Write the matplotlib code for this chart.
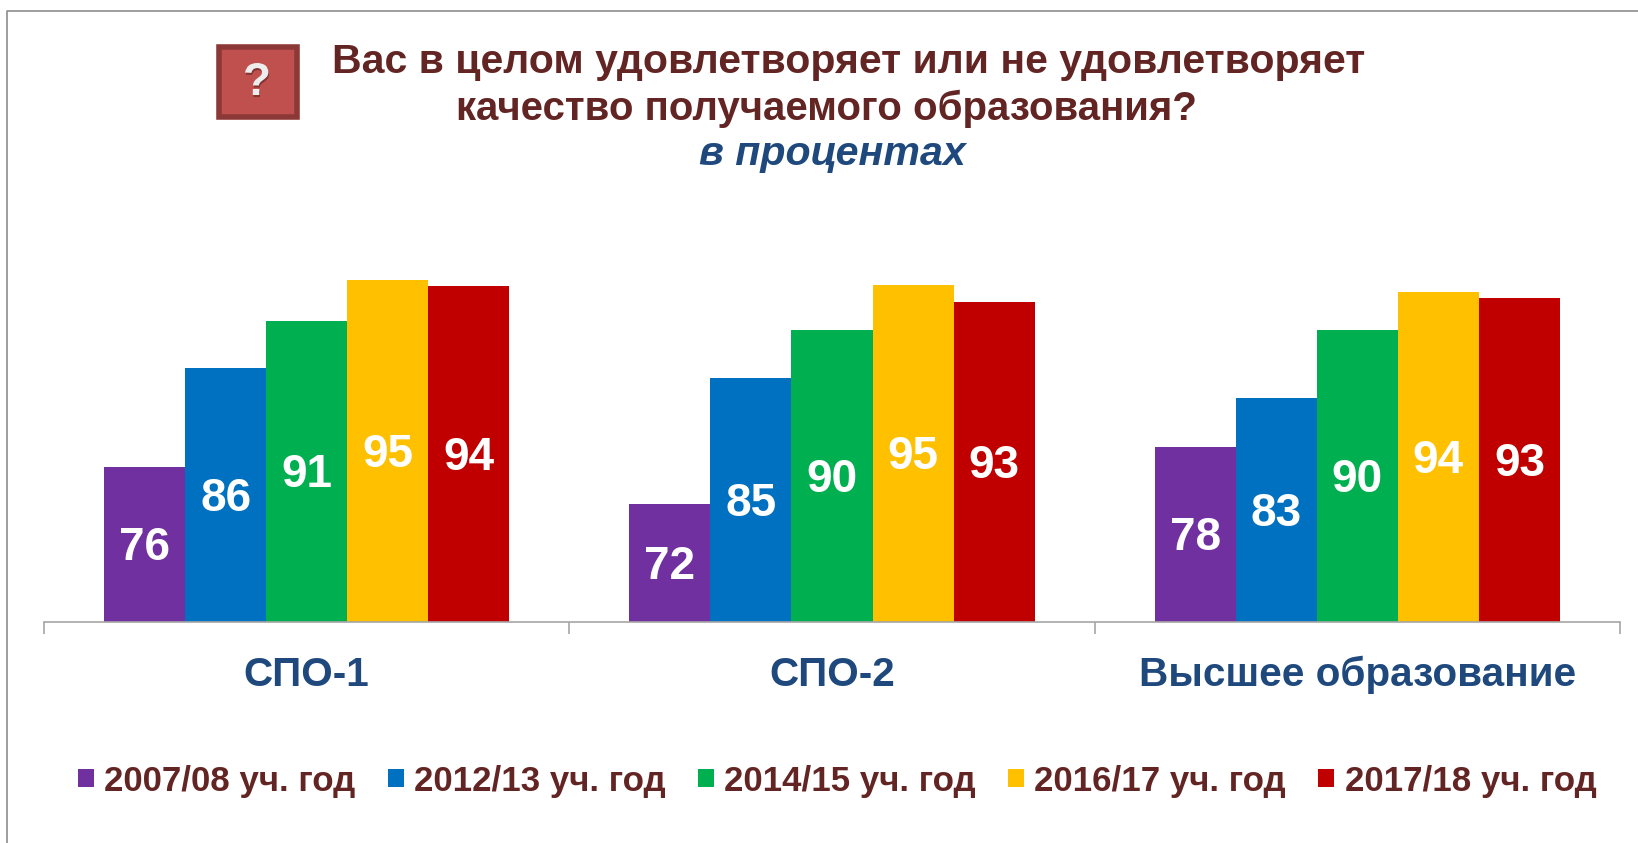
#!/usr/bin/env python3
# -*- coding: utf-8 -*-
import numpy as np
import matplotlib
matplotlib.use("Agg")
import matplotlib.pyplot as plt
import matplotlib.patheffects as pe
from matplotlib.lines import Line2D
from matplotlib.patches import Rectangle

plt.rcParams['font.family'] = ['Liberation Sans', 'DejaVu Sans']

categories = ["СПО-1", "СПО-2", "Высшее образование"]
years = ["2007/08 уч. год", "2012/13 уч. год", "2014/15 уч. год",
         "2016/17 уч. год", "2017/18 уч. год"]
colors = ["#7030A0", "#0070C0", "#00B050", "#FFC000", "#C00000"]

# decimals, the labels show them rounded
v_0708 = [76.0, 72.2, 78.0]
v_1213 = [86.1, 85.0, 83.0]
v_1415 = [90.9, 89.9, 89.9]
v_1617 = [95.0, 94.55, 93.8]
v_1718 = [94.4, 92.8, 93.2]
series = [v_0708, v_1213, v_1415, v_1617, v_1718]

W, H = 1638, 843
BROWN = "#632523"
BLUE = "#1F497D"
GREY = "#8C8C8C"

fig = plt.figure(figsize=(W / 100, H / 100), dpi=100, facecolor="white")


def fx(px):
    return px / W


def fy(py):
    return 1 - py / H


# chart frame, only left and top show in the picture
fig.add_artist(Line2D([fx(7), fx(7), fx(W)], [fy(H), fy(11), fy(11)],
                      color=GREY, lw=1.2))

ax_left, ax_right, ax_base, ax_top = 44, 1620, 621.5, 221
ax = fig.add_axes([fx(ax_left), fy(ax_base), fx(ax_right - ax_left),
                   (ax_base - ax_top) / H])
ymin = 60.25
ax.set_ylim(ymin, ymin + (ax_base - ax_top) / 9.82)
ax.set_xlim(-0.5, 2.5)

x = np.arange(len(categories))
bar_w = 0.1543
for i, vals in enumerate(series):
    pos = x + (i - 2) * bar_w
    bars = ax.bar(pos, vals, bar_w, color=colors[i], linewidth=0, label=years[i])
    labs = ax.bar_label(bars, labels=["%.0f" % v for v in vals], label_type="center",
                        color="white", fontsize=33, fontweight="bold")
    # sit a little under the true centre, like the original
    for t in labs:
        t.xyann = (0, -2.9)

for s in ["top", "right", "left"]:
    ax.spines[s].set_visible(False)
ax.spines["bottom"].set_color("#A6A6A6")
ax.spines["bottom"].set_linewidth(1.2)
ax.set_yticks([])
ax.set_xticks([-0.5, 0.5, 1.5, 2.5])
ax.set_xticklabels([])
ax.tick_params(axis="x", which="major", length=8.3, width=1.2, color="#A6A6A6")
ax.set_xticks(x, minor=True)
ax.set_xticklabels(categories, minor=True, fontsize=29.2, fontweight="bold", color=BLUE)
ax.tick_params(axis="x", which="minor", length=0, pad=24.5)

ax.legend(loc="center left", bbox_to_anchor=(fx(78), fy(781)),
          bbox_transform=fig.transFigure, ncol=5, frameon=False,
          prop={"size": 25.1, "weight": "bold"}, labelcolor=BROWN,
          handlelength=0.45, handleheight=0.45, handletextpad=0.3,
          columnspacing=0.93, borderpad=0, borderaxespad=0)

fig.text(fx(849), fy(62), "Вас в целом удовлетворяет или не удовлетворяет",
         ha="center", va="center", fontsize=29.5, fontweight="bold", color=BROWN)
fig.text(fx(827), fy(109), "качество получаемого образования?",
         ha="center", va="center", fontsize=29, fontweight="bold", color=BROWN)
fig.text(fx(832), fy(154), "в процентах", ha="center", va="center", fontsize=29.6,
         fontweight="bold", fontstyle="italic", color=BLUE)

# question mark icon
fig.add_artist(Rectangle((fx(219), fy(117)), fx(78), 70 / H, facecolor="#C0504D",
                         edgecolor="#8C3836", lw=4, transform=fig.transFigure))
fig.text(fx(257), fy(83), "?", ha="center", va="center", fontsize=33,
         fontweight="bold", color="#EDEDED",
         path_effects=[pe.withSimplePatchShadow(offset=(0.5, -1.5), shadow_rgbFace="#5A2020", alpha=0.6)])

fig.savefig("out.png", dpi=100)
